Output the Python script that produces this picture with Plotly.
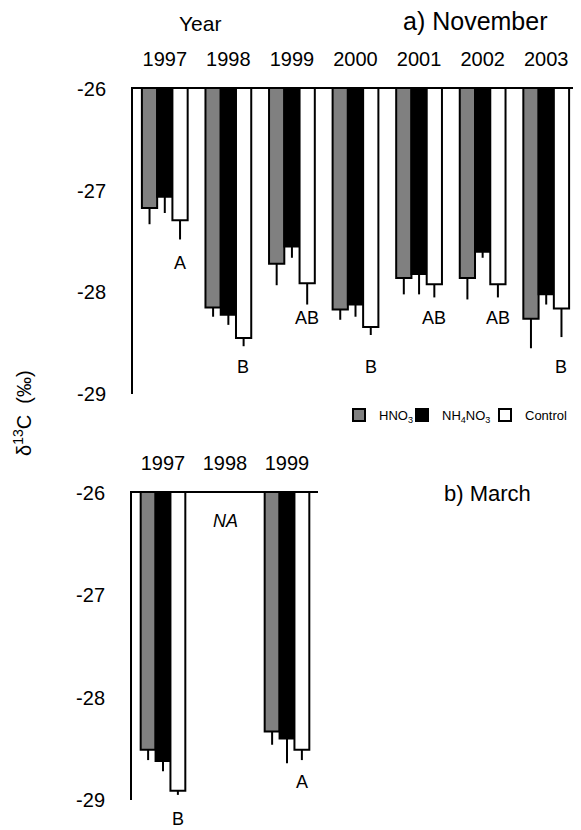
import plotly.graph_objects as go

# ---- data: a) November ----
years_nov = ["1997", "1998", "1999", "2000", "2001", "2002", "2003"]
hno3_nov = [-27.17, -28.15, -27.72, -28.17, -27.86, -27.86, -28.26]
hno3_nov_err = [0.16, 0.09, 0.21, 0.10, 0.16, 0.21, 0.29]
nh4_nov = [-27.06, -28.22, -27.55, -28.12, -27.82, -27.60, -28.02]
nh4_nov_err = [0.16, 0.10, 0.11, 0.12, 0.20, 0.06, 0.10]
ctrl_nov = [-27.29, -28.45, -27.91, -28.34, -27.92, -27.92, -28.16]
ctrl_nov_err = [0.19, 0.08, 0.21, 0.08, 0.13, 0.13, 0.28]
letters_nov = ["A", "B", "AB", "B", "AB", "AB", "B"]
letters_nov_y = [-27.71, -28.73, -28.25, -28.73, -28.25, -28.25, -28.73]

# ---- data: b) March ----
years_mar = ["1997", "1998", "1999"]
hno3_mar = [-28.51, None, -28.33]
hno3_mar_err = [0.10, 0, 0.13]
nh4_mar = [-28.62, None, -28.40]
nh4_mar_err = [0.10, 0, 0.24]
ctrl_mar = [-28.91, None, -28.51]
ctrl_mar_err = [0.04, 0, 0.10]
letters_mar = ["B", "", "A"]
letters_mar_y = [-29.19, None, -28.82]
na_year_index = 1  # 1998 not available in March

y_min, y_max = -29, -26
y_ticks = [-29, -28, -27, -26]
y_ticktext = ["-29", "-28", "-27", "-26"]

series_names = ["HNO<sub>3</sub>", "NH<sub>4</sub>NO<sub>3</sub>", "Control"]
colors = ["#808080", "#000000", "#ffffff"]
legend_ids = ["legend", "legend2", "legend3"]

FONT = "Liberation Sans, Arial, sans-serif"

fig = go.Figure()

nov = [(hno3_nov, hno3_nov_err), (nh4_nov, nh4_nov_err), (ctrl_nov, ctrl_nov_err)]
mar = [(hno3_mar, hno3_mar_err), (nh4_mar, nh4_mar_err), (ctrl_mar, ctrl_mar_err)]

for i, (vals, errs) in enumerate(nov):
    fig.add_trace(go.Bar(
        x=years_nov, y=vals, name=series_names[i],
        marker=dict(color=colors[i], line=dict(color="black", width=2)),
        error_y=dict(type="data", symmetric=False, array=[0] * len(errs),
                     arrayminus=errs, color="black", thickness=2, width=0),
        xaxis="x", yaxis="y", showlegend=True, legend=legend_ids[i],
    ))

for i, (vals, errs) in enumerate(mar):
    fig.add_trace(go.Bar(
        x=years_mar, y=vals, name=series_names[i],
        marker=dict(color=colors[i], line=dict(color="black", width=2)),
        error_y=dict(type="data", symmetric=False, array=[0] * len(errs),
                     arrayminus=errs, color="black", thickness=2, width=0),
        xaxis="x2", yaxis="y2", showlegend=False,
    ))

# page body has an 8px margin; figure is sized to the visible area
OFF = 8
W, H = 581 - OFF, 830 - OFF
def px_x(p):
    return (p - OFF) / W
def px_y(p):
    return 1 - (p - OFF) / H

axis_font = dict(family=FONT, size=20, color="black")
common_x = dict(type="category", side="top", showline=True, linecolor="black",
                linewidth=2, showgrid=False, zeroline=False, ticks="",
                tickfont=axis_font, ticklabelstandoff=13, automargin=False)
common_y = dict(range=[y_min, y_max], showline=True, linecolor="black", linewidth=2,
                showgrid=False, zeroline=False, ticks="", tickvals=y_ticks,
                ticktext=y_ticktext, tickfont=axis_font, ticklabelstandoff=21,
                automargin=False)

legend_font = dict(family=FONT, size=13, color="black")
def legend_at(x_left):
    return dict(orientation="h", x=px_x(x_left), xanchor="left",
                y=px_y(415), yanchor="middle", font=legend_font,
                bgcolor="rgba(0,0,0,0)", itemwidth=30)

fig.update_layout(
    template="none",
    width=W, height=H,
    margin=dict(l=0, r=0, t=0, b=0, autoexpand=False),
    paper_bgcolor="white", plot_bgcolor="white",
    barmode="group", bargap=0.28, bargroupgap=0,
    font=dict(family=FONT, color="black"),
    xaxis=dict(domain=[px_x(133), px_x(578)], anchor="y", **common_x),
    yaxis=dict(domain=[px_y(394), px_y(89)], anchor="x", **common_y),
    xaxis2=dict(domain=[px_x(132), px_x(318)], anchor="y2", **common_x),
    yaxis2=dict(domain=[px_y(800), px_y(493)], anchor="x2", **common_y),
    legend=legend_at(339),
    legend2=legend_at(402),
    legend3=legend_at(485),
)

letter_font = dict(family=FONT, size=18, color="black")
annotations = []
for i, (lt, ly) in enumerate(zip(letters_nov, letters_nov_y)):
    annotations.append(dict(x=i, y=(ly - y_min) / (y_max - y_min), xref="x",
                            yref="y domain", text=lt, showarrow=False, xshift=15,
                            xanchor="center", yanchor="middle", font=letter_font))
for i, (lt, ly) in enumerate(zip(letters_mar, letters_mar_y)):
    if lt:
        annotations.append(dict(x=i, y=(ly - y_min) / (y_max - y_min), xref="x2",
                                yref="y2 domain", text=lt, showarrow=False, xshift=15,
                                xanchor="center", yanchor="middle", font=letter_font))
annotations.append(dict(x=na_year_index, y=-26.27, xref="x2", yref="y2", text="<i>NA</i>",
                        showarrow=False, xanchor="center", yanchor="middle",
                        font=letter_font))
annotations.append(dict(x=px_x(200), y=px_y(23), xref="paper", yref="paper", text="Year",
                        showarrow=False, xanchor="center", yanchor="middle",
                        font=dict(family=FONT, size=21, color="black")))
annotations.append(dict(x=px_x(475), y=px_y(21), xref="paper", yref="paper",
                        text="a) November", showarrow=False, xanchor="center",
                        yanchor="middle", font=dict(family=FONT, size=25, color="black")))
annotations.append(dict(x=px_x(487), y=px_y(493), xref="paper", yref="paper",
                        text="b) March", showarrow=False, xanchor="center",
                        yanchor="middle", font=dict(family=FONT, size=22, color="black")))
annotations.append(dict(x=px_x(22), y=px_y(413), xref="paper", yref="paper",
                        text="δ<sup>13</sup>C  (‰)", textangle=-90, showarrow=False,
                        xanchor="center", yanchor="middle",
                        font=dict(family=FONT, size=20, color="black")))
fig.update_layout(annotations=annotations)

fig.write_html("out.html")
